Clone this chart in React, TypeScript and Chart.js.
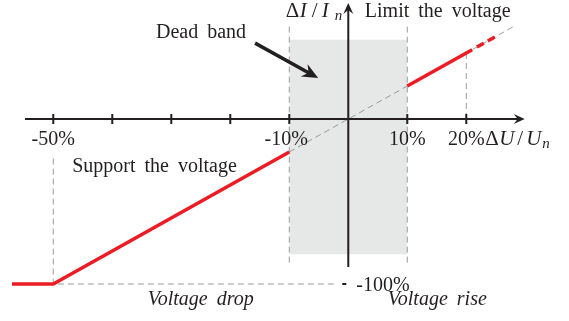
import { useEffect, useRef } from "react";
import { Chart, registerables } from "chart.js";

Chart.register(...registerables);

const W = 569;
const H = 321;

// Voltage deviation ΔU/Un (%) on x, reactive current ΔI/In (%) on y
const supportU = [-57, -50, -10];
const supportI = [-100, -100, -20];
const limitU = [10, 21];
const limitI = [20, 42];
const limitExtU = [21.8, 24.9];
const limitExtI = [43.6, 49.8];
const gainU = [-10, 28];
const gainI = [-20, 56];

// Dead band of ±10 %
const deadBandU = [-10, 10];
const deadBandTop = 48;
const deadBandBottom = -82;

// Dashed guides
const guideDropU = [-50, -50, -2];
const guideDropI = [-24, -100, -100];
const guideLowU = [-10, -10];
const guideHighU = [10, 10];
const guideBandI = [56, -89];
const guideRiseU = [20, 20];
const guideRiseI = [40, 0];

// Axes
const xTicks = [-50, -40, -30, -20, -10, 10, 20];
const xTickLabels = ["-50%", "", "", "", "-10%", "10%", "20%"];
const yTickValue = -100;
const yTickLabel = "-100%";
const xAxisRange = [-54.8, 29.9];
const yAxisRange = [-89.7, 70.3];

const X_MIN = -59.03;
const X_MAX = 37.41;
const Y_MIN = -122.42;
const Y_MAX = 72.12;

const RED = "#ec1c24";
const GREY = "#9a9a9a";
const INK = "#231f20";
const SERIF = '"Liberation Serif", "Times New Roman", serif';

const pts = (xs: number[], ys: number[]) => xs.map((x, i) => ({ x, y: ys[i] }));

type Glyph = { t: string; dx: number; it?: boolean; sub?: boolean };

const diagramPlugin = {
  id: "diagramAxes",
  afterDatasetsDraw(chart: any) {
    const { ctx, scales } = chart;
    const px = (v: number) => scales.x.getPixelForValue(v);
    const py = (v: number) => scales.y.getPixelForValue(v);
    const x0 = px(0);
    const y0 = py(0);

    ctx.save();
    ctx.strokeStyle = INK;
    ctx.fillStyle = INK;
    ctx.lineWidth = 2;
    ctx.setLineDash([]);

    // x axis
    const xa = px(xAxisRange[0]);
    const xb = px(xAxisRange[1]);
    ctx.beginPath();
    ctx.moveTo(xa, y0);
    ctx.lineTo(xb - 4, y0);
    ctx.stroke();
    ctx.beginPath();
    ctx.moveTo(xb, y0);
    ctx.lineTo(xb - 11, y0 - 5);
    ctx.lineTo(xb - 7, y0);
    ctx.lineTo(xb - 11, y0 + 5);
    ctx.closePath();
    ctx.fill();

    // y axis
    const ya = py(yAxisRange[0]);
    const yb = py(yAxisRange[1]);
    ctx.beginPath();
    ctx.moveTo(x0, ya);
    ctx.lineTo(x0, yb + 4);
    ctx.stroke();
    ctx.beginPath();
    ctx.moveTo(x0, yb);
    ctx.lineTo(x0 - 5, yb + 11);
    ctx.lineTo(x0, yb + 7);
    ctx.lineTo(x0 + 5, yb + 11);
    ctx.closePath();
    ctx.fill();

    // x ticks and labels
    ctx.font = `20px ${SERIF}`;
    ctx.textAlign = "center";
    ctx.textBaseline = "alphabetic";
    xTicks.forEach((t, i) => {
      const x = px(t);
      ctx.beginPath();
      ctx.moveTo(x, y0 - 5);
      ctx.lineTo(x, y0 + 5);
      ctx.stroke();
      const label = xTickLabels[i];
      if (label) ctx.fillText(label, t < 0 && t > -20 ? x - 3 : x, y0 + 26);
    });

    // y tick at -100 %
    const yt = py(yTickValue);
    ctx.beginPath();
    ctx.moveTo(x0 - 6, yt);
    ctx.lineTo(x0 - 2, yt);
    ctx.stroke();
    ctx.textAlign = "left";
    ctx.fillText(yTickLabel, x0 + 8, yt + 7);

    // axis titles, set glyph by glyph like typeset math
    const drawMath = (x: number, y: number, glyphs: Glyph[]) => {
      glyphs.forEach((g) => {
        ctx.font = `${g.it ? "italic " : ""}${g.sub ? 15 : 21}px ${SERIF}`;
        ctx.fillText(g.t, x + g.dx, g.sub ? y + 3 : y);
      });
    };
    ctx.textAlign = "left";
    drawMath(px(-10.6), py(61.8), [
      { t: "Δ", dx: 0 },
      { t: "I", dx: 14, it: true },
      { t: "/", dx: 26 },
      { t: "I", dx: 36, it: true },
      { t: "n", dx: 49, it: true, sub: true },
    ]);
    drawMath(px(23.2), y0 + 26, [
      { t: "Δ", dx: 0 },
      { t: "U", dx: 14, it: true },
      { t: "/", dx: 32 },
      { t: "U", dx: 41, it: true },
      { t: "n", dx: 57, it: true, sub: true },
    ]);

    // annotations
    ctx.font = `20px ${SERIF}`;
    (ctx as any).wordSpacing = "4px";
    ctx.fillText("Dead band", px(-32.6), py(49.1));
    ctx.fillText("Limit the voltage", px(2.8), py(61.8));
    ctx.fillText("Support the voltage", px(-46.8), py(-32.1));
    ctx.font = `italic 20px ${SERIF}`;
    ctx.fillText("Voltage drop", px(-34.0), py(-112.7));
    ctx.fillText("Voltage rise", px(6.7), py(-112.7));
    (ctx as any).wordSpacing = "0px";

    // pointer to the dead band
    const ax = px(-15.8);
    const ay = py(46);
    const bx = px(-5.1);
    const by = py(24.8);
    const ang = Math.atan2(by - ay, bx - ax);
    const ux = Math.cos(ang);
    const uy = Math.sin(ang);
    ctx.lineWidth = 3.5;
    ctx.beginPath();
    ctx.moveTo(ax, ay);
    ctx.lineTo(bx - ux * 10, by - uy * 10);
    ctx.stroke();
    ctx.beginPath();
    ctx.moveTo(bx, by);
    ctx.lineTo(bx - ux * 16 - uy * 7, by - uy * 16 + ux * 7);
    ctx.lineTo(bx - ux * 11, by - uy * 11);
    ctx.lineTo(bx - ux * 16 + uy * 7, by - uy * 16 - ux * 7);
    ctx.closePath();
    ctx.fill();

    ctx.restore();
  },
};

const guide = (data: { x: number; y: number }[]) => ({
  data,
  borderColor: GREY,
  borderWidth: 1,
  borderDash: [6, 4],
  pointRadius: 0,
  fill: false,
  order: 5,
});

export default function App() {
  const ref = useRef<HTMLCanvasElement>(null);

  useEffect(() => {
    if (!ref.current) return;
    const chart = new Chart(ref.current, {
      type: "line",
      data: {
        datasets: [
          {
            data: pts(supportU, supportI),
            borderColor: RED,
            borderWidth: 3.5,
            pointRadius: 0,
            fill: false,
            order: 1,
          },
          {
            data: pts(limitU, limitI),
            borderColor: RED,
            borderWidth: 3.5,
            pointRadius: 0,
            fill: false,
            order: 1,
          },
          {
            data: pts(limitExtU, limitExtI),
            borderColor: RED,
            borderWidth: 3.5,
            borderDash: [8, 4.5],
            pointRadius: 0,
            fill: false,
            order: 1,
          },
          {
            data: pts(gainU, gainI),
            borderColor: GREY,
            borderWidth: 1,
            borderDash: [6, 4],
            pointRadius: 0,
            fill: false,
            order: 4,
          },
          guide(pts(guideDropU, guideDropI)),
          guide(pts(guideLowU, guideBandI)),
          guide(pts(guideHighU, guideBandI)),
          guide(pts(guideRiseU, guideRiseI)),
          {
            data: pts(deadBandU, [deadBandTop, deadBandTop]),
            borderWidth: 0,
            borderColor: "rgba(0,0,0,0)",
            backgroundColor: "#e6e7e7",
            pointRadius: 0,
            fill: { value: deadBandBottom },
            order: 10,
          },
        ] as any,
      },
      options: {
        responsive: false,
        animation: false,
        devicePixelRatio: 1,
        layout: { padding: 0 },
        plugins: {
          legend: { display: false },
          tooltip: { enabled: false },
        },
        elements: { line: { tension: 0, borderCapStyle: "butt" } },
        scales: {
          x: { type: "linear", min: X_MIN, max: X_MAX, display: false },
          y: { type: "linear", min: Y_MIN, max: Y_MAX, display: false },
        },
      },
      plugins: [diagramPlugin],
    });
    return () => chart.destroy();
  }, []);

  return (
    <div
      style={{
        position: "fixed",
        left: 0,
        top: 0,
        width: W,
        height: H,
        background: "#fff",
      }}
    >
      <canvas ref={ref} width={W} height={H} />
    </div>
  );
}
